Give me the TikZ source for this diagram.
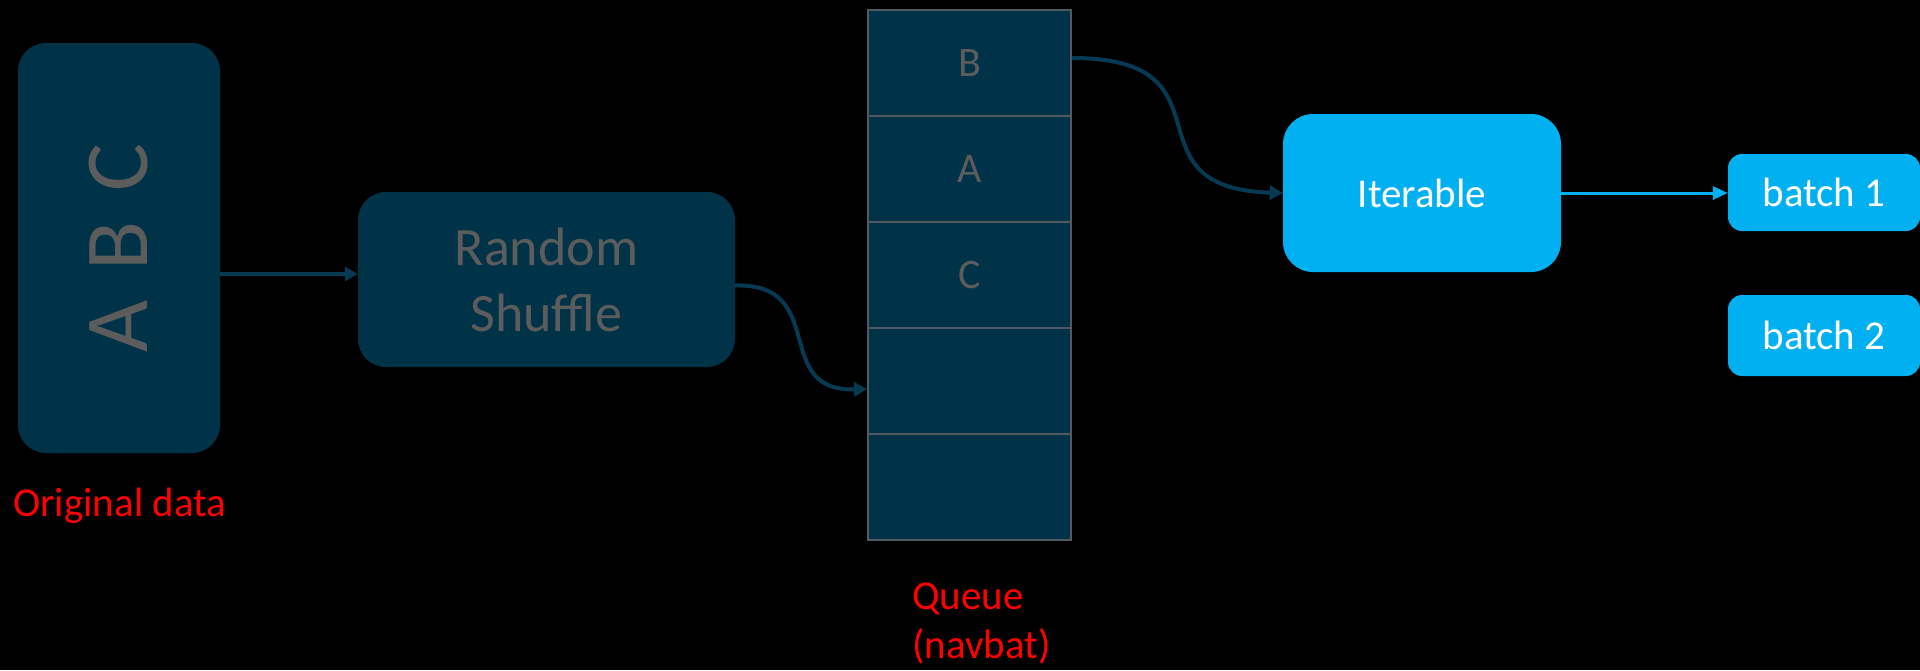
\documentclass[tikz,border=0pt]{standalone}
\usepackage{fontspec}
\setmainfont{Carlito}
\usetikzlibrary{arrows.meta}
\definecolor{darkbox}{RGB}{1,51,72}
\definecolor{dimtext}{RGB}{92,92,92}
\definecolor{cellline}{RGB}{80,90,95}
\definecolor{darkline}{RGB}{6,58,82}
\definecolor{brightblue}{RGB}{0,176,240}
\tikzset{
  darknode/.style={fill=darkbox, rounded corners=28pt, inner sep=0pt, text=dimtext},
  bluenode/.style={fill=brightblue, inner sep=0pt, text=white, font=\fontsize{41}{49}\selectfont},
  cellnode/.style={draw=cellline, line width=1.8pt, fill=darkbox, minimum width=203pt, minimum height=106pt, inner sep=0pt, text=dimtext, font=\fontsize{42}{50}\selectfont},
  redlabel/.style={text=red, font=\fontsize{41}{49}\selectfont, inner sep=0pt},
  darkarrow/.style={draw=darkline, line width=4pt, -{Triangle[length=13pt,width=14pt]}},
  bluearrow/.style={draw=brightblue, line width=3pt, -{Triangle[length=15pt,width=13pt]}}
}
\begin{document}
\begin{tikzpicture}[x=1pt,y=-1pt]
\fill[black] (0,0) rectangle (1920,670);
\useasboundingbox (0,0) rectangle (1920,670);
% original data
\node[darknode, minimum width=202pt, minimum height=410pt] (orig) at (119,248) {};
\node[text=dimtext, rotate=90, font=\fontsize{90}{100}\selectfont, inner sep=0pt] (abc) at (orig.center) {A\,\,B\,\,C};
\node[redlabel] (origlbl) at (120,506) {Original data};
% random shuffle
\node[darknode, minimum width=377pt, minimum height=175pt, align=center, font=\fontsize{54}{66}\selectfont] (shuf) at (546.5,279.5) {Random\\Shuffle};
% queue cells
\node[cellnode] (q1) at (969.5,63) {B};
\node[cellnode] (q2) at (969.5,169) {A};
\node[cellnode] (q3) at (969.5,275) {C};
\node[cellnode] (q4) at (969.5,381) {};
\node[cellnode] (q5) at (969.5,487) {};
\node[redlabel, align=left, anchor=north west] (qlbl) at (912,583) {Queue\\(navbat)};
% iterable and batches
\node[bluenode, rounded corners=30pt, minimum width=278pt, minimum height=158pt] (iter) at (1422,193) {Iterable};
\node[bluenode, rounded corners=14pt, minimum width=192pt, minimum height=77pt] (b1) at (1824,192.5) {batch 1};
\node[bluenode, rounded corners=14pt, minimum width=192pt, minimum height=81pt] (b2) at (1824,335.5) {batch 2};
% connectors
\draw[darkarrow] ([yshift=-26pt]orig.east) -- ([yshift=-26pt]orig.east -| shuf.west);
\draw[darkarrow] ([yshift=-6pt]shuf.east) .. controls (830,283) and (770,392) .. ([yshift=-8pt]q4.west);
\draw[darkarrow] ([yshift=5pt]q1.east) .. controls (1240,58) and (1120,188) .. (iter.west);
\draw[bluearrow] (iter.east) -- (iter.east -| b1.west);
\end{tikzpicture}
\end{document}
